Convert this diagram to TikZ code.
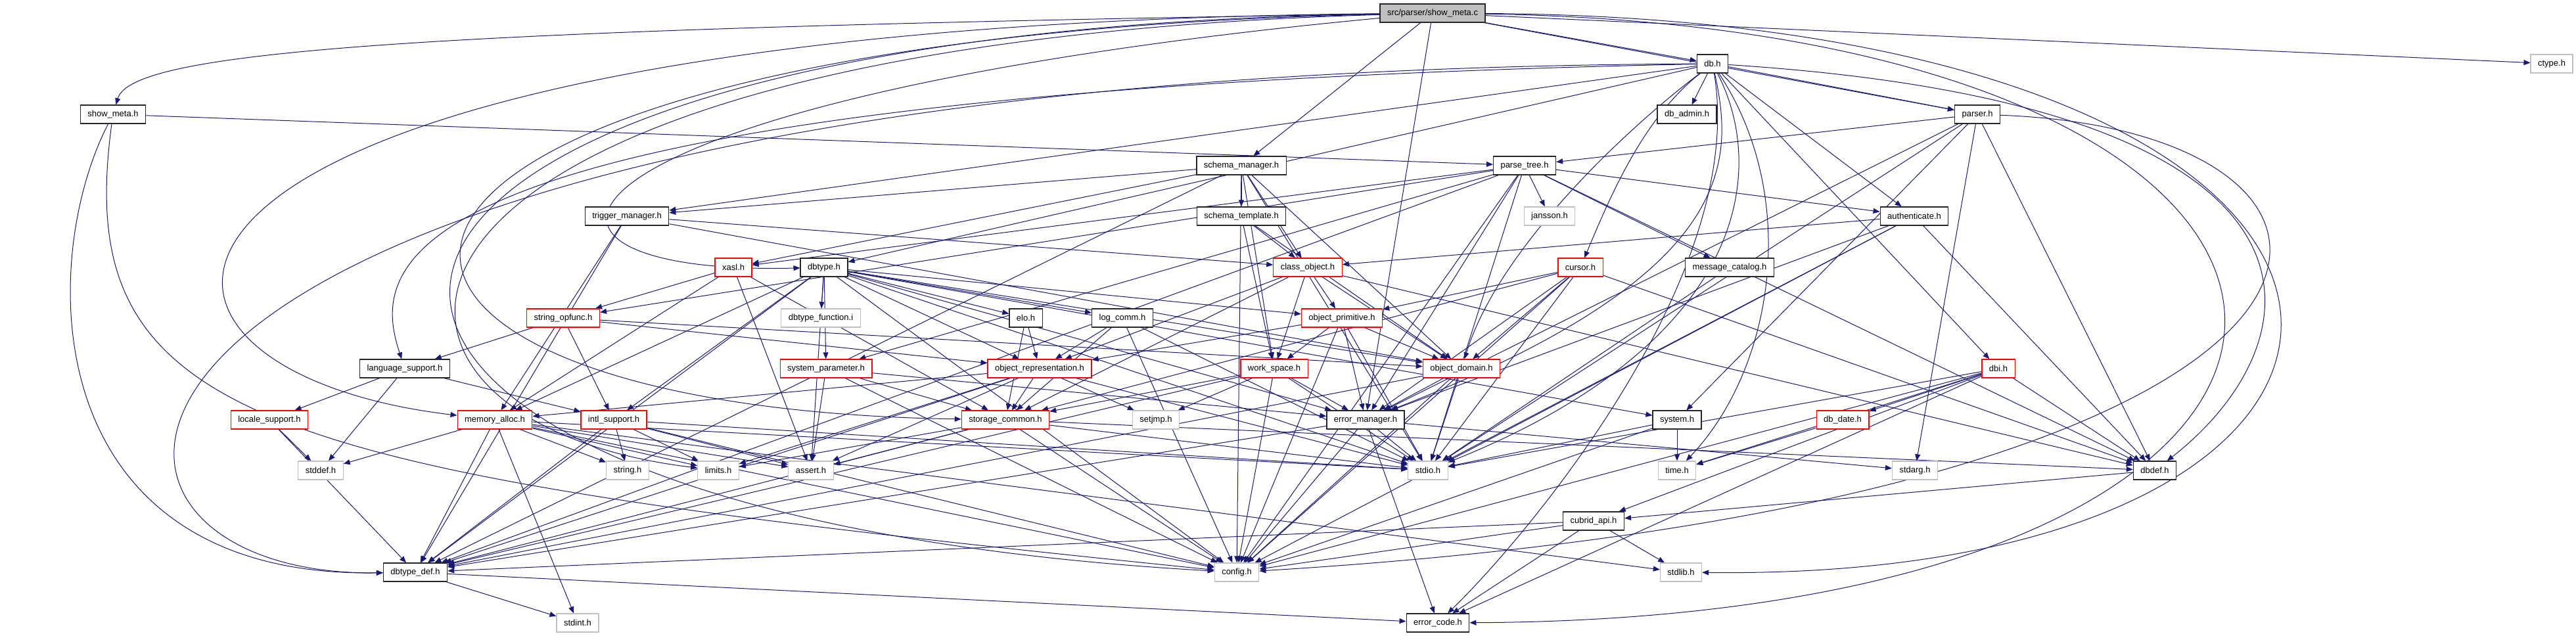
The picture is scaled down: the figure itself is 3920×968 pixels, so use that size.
\documentclass[tikz,border=0pt]{standalone}
\usepackage{fontspec}
\setmainfont{Liberation Sans}
\usetikzlibrary{arrows.meta, backgrounds}

\definecolor{edgeblue}{HTML}{191970}
\definecolor{sysgray}{HTML}{BFBFBF}

\begin{document}
\begin{tikzpicture}[
  x=1pt, y=-1pt,
  font=\fontsize{13}{15}\selectfont,
  hdr/.style={
    rectangle, draw=black!85, line width=1.2pt, fill=white,
    minimum height=28pt, inner xsep=11pt, inner ysep=0pt,
  },
  part/.style={hdr, draw=red},
  syshdr/.style={hdr, draw=sysgray},
  root/.style={hdr, fill=sysgray},
  inc/.style={draw=edgeblue, line width=1pt, -{Triangle[length=10pt,width=8pt]}},
]
\useasboundingbox (0,0) rectangle (3920,968);

% rows of the include graph
\node[root]   (showc)     at (2180,20)  {src/parser/show\_meta.c};
\node[hdr]    (db)        at (2606,97)  {db.h};
\node[syshdr] (ctype)     at (3883,97)  {ctype.h};
\node[hdr]    (showh)     at (172,174)  {show\_meta.h};
\node[hdr]    (dbadmin)   at (2567,174) {db\_admin.h};
\node[hdr]    (parser)    at (3009,174) {parser.h};
\node[hdr]    (schemamgr) at (1889,252) {schema\_manager.h};
\node[hdr]    (parsetree) at (2320,252) {parse\_tree.h};
\node[hdr]    (trigmgr)   at (954,329)  {trigger\_manager.h};
\node[hdr]    (schematpl) at (1889,329) {schema\_template.h};
\node[syshdr] (jansson)   at (2358,329) {jansson.h};
\node[hdr]    (auth)      at (2913,329) {authenticate.h};
\node[part]   (xasl)      at (1116,407) {xasl.h};
\node[hdr]    (dbtype)    at (1254,407) {dbtype.h};
\node[part]   (classobj)  at (1990,407) {class\_object.h};
\node[part]   (cursor)    at (2405,407) {cursor.h};
\node[hdr]    (msgcat)    at (2632,407) {message\_catalog.h};
\node[part]   (strop)     at (857,484)  {string\_opfunc.h};
\node[syshdr] (dbtypefn)  at (1249,484) {dbtype\_function.i};
\node[hdr]    (elo)       at (1561,484) {elo.h};
\node[hdr]    (logcomm)   at (1708,484) {log\_comm.h};
\node[part]   (objprim)   at (2042,484) {object\_primitive.h};
\node[hdr]    (langsup)   at (616,561)  {language\_support.h};
\node[part]   (syspar)    at (1257,561) {system\_parameter.h};
\node[part]   (objrep)    at (1582,561) {object\_representation.h};
\node[part]   (workspace) at (1939,561) {work\_space.h};
\node[part]   (objdom)    at (2224,561) {object\_domain.h};
\node[part]   (dbi)       at (3041,561) {dbi.h};
\node[part]   (locsup)    at (410,639)  {locale\_support.h};
\node[part]   (memalloc)  at (753,639)  {memory\_alloc.h};
\node[part]   (intlsup)   at (934,639)  {intl\_support.h};
\node[part]   (storcom)   at (1530,639) {storage\_common.h};
\node[syshdr] (setjmp)    at (1759,639) {setjmp.h};
\node[hdr]    (errmgr)    at (2078,639) {error\_manager.h};
\node[hdr]    (system)    at (2552,639) {system.h};
\node[part]   (dbdate)    at (2804,639) {db\_date.h};
\node[syshdr] (stddef)    at (488,716)  {stddef.h};
\node[syshdr] (stringh)   at (955,716)  {string.h};
\node[syshdr] (limits)    at (1093,716) {limits.h};
\node[syshdr] (assert)    at (1234,716) {assert.h};
\node[syshdr] (stdio)     at (2173,716) {stdio.h};
\node[syshdr] (time)      at (2552,716) {time.h};
\node[syshdr] (stdarg)    at (2914,716) {stdarg.h};
\node[hdr]    (dbdef)     at (3279,716) {dbdef.h};
\node[hdr]    (cubridapi) at (2425,793) {cubrid\_api.h};
\node[hdr]    (dbtypedef) at (632,871)  {dbtype\_def.h};
\node[syshdr] (config)    at (1882,871) {config.h};
\node[syshdr] (stdlib)    at (2558,871) {stdlib.h};
\node[syshdr] (stdint)    at (879,948)  {stdint.h};
\node[hdr]    (errcode)   at (2188,948) {error\_code.h};

\begin{scope}[on background layer]
% direct includes
\foreach \s/\t in {
  showc/db, showc/parser, showc/schemamgr, showc/ctype, showc/errmgr,
  showh/parsetree,
  db/dbadmin, db/parser, db/auth, db/dbi, db/trigmgr, db/dbtype,
  parser/parsetree, parser/errmgr, parser/stdio, parser/dbdef, parser/stdarg,
  parser/system,
  schemamgr/trigmgr, schemamgr/schematpl, schemamgr/classobj,
  schemamgr/workspace, schemamgr/objdom, schemamgr/xasl, schemamgr/dbtypedef,
  schemamgr/stdio, schemamgr/config,
  parsetree/jansson, parsetree/msgcat, parsetree/xasl,
  parsetree/strop, parsetree/syspar, parsetree/auth, parsetree/errmgr,
  parsetree/dbdef, parsetree/stdio, parsetree/config, parsetree/dbtypedef,
  trigmgr/classobj, trigmgr/objdom, trigmgr/dbtypedef, trigmgr/memalloc,
  schematpl/classobj, schematpl/workspace, schematpl/objdom,
  auth/classobj, auth/dbdef, auth/errmgr, auth/stdio, auth/config,
  xasl/strop, xasl/memalloc, xasl/storcom, xasl/assert,
  dbtype/dbtypefn, dbtype/elo, dbtype/logcomm, dbtype/objprim, dbtype/objdom,
  dbtype/syspar, dbtype/intlsup, dbtype/memalloc, dbtype/dbtypedef,
  dbtype/errmgr, dbtype/stdio, dbtype/system, dbtype/objrep, dbtype/config,
  dbtype/assert,
  classobj/objprim, classobj/objdom, classobj/workspace, classobj/objrep,
  classobj/storcom, classobj/dbdef,
  cursor/objprim, cursor/objdom, cursor/storcom, cursor/errmgr, cursor/stdio,
  cursor/config, cursor/dbdef,
  msgcat/stdio,
  strop/langsup, strop/intlsup, strop/objrep, strop/objdom,
  elo/objrep, elo/storcom,
  logcomm/objrep, logcomm/storcom, logcomm/stdio, logcomm/config,
  objprim/objrep, objprim/workspace, objprim/objdom, objprim/errmgr,
  objprim/stdio, objprim/config,
  langsup/locsup, langsup/stddef, langsup/intlsup,
  syspar/storcom, syspar/config, syspar/errmgr, syspar/assert,
  objrep/storcom, objrep/setjmp, objrep/memalloc, objrep/dbtypedef,
  objrep/stdio, objrep/assert, objrep/limits,
  workspace/storcom, workspace/errmgr, workspace/stdio, workspace/config,
  workspace/setjmp, workspace/dbtypedef,
  objdom/errmgr, objdom/stdio, objdom/config, objdom/dbtypedef,
  dbi/dbdate, dbi/dbdef, dbi/stdio, dbi/time, dbi/config, dbi/errcode,
  dbi/cubridapi,
  locsup/stddef, locsup/dbtypedef,
  memalloc/stddef, memalloc/stringh, memalloc/limits, memalloc/assert,
  memalloc/stdio, memalloc/config, memalloc/dbtypedef, memalloc/stdint,
  memalloc/stdlib,
  intlsup/stringh, intlsup/limits, intlsup/assert, intlsup/dbtypedef,
  intlsup/config, intlsup/stdio,
  storcom/dbtypedef, storcom/config, storcom/assert, storcom/stdio,
  storcom/limits, storcom/dbdef,
  errmgr/stdio, errmgr/stdarg, errmgr/errcode, errmgr/config,
  errmgr/dbtypedef,
  system/time, system/config, system/stdio,
  dbdate/time,
  cubridapi/errcode, cubridapi/stdlib, cubridapi/config, cubridapi/dbtypedef,
  dbdef/cubridapi,
  dbtypedef/stdint, dbtypedef/errcode}
  \draw[inc] (\s) -- (\t);

% db.h fans out downwards
\draw[inc] (db) .. controls (2500,180) and (2450,300) .. (cursor);
\draw[inc] (db) .. controls (2470,200) and (2280,380) .. (objdom);
\draw[inc] (db) .. controls (2640,250) and (2640,420) .. (errmgr);
\draw[inc] (db) .. controls (2690,260) and (2660,520) .. (stdio);
\draw[inc] (db) .. controls (2740,300) and (2700,560) .. (time);
\draw[inc] (db) .. controls (2660,420) and (2320,820) .. (errcode);

% long routes round the left side
\draw[inc] (showc) .. controls (600,45) and (200,80) .. (showh);
\draw[inc] (showc) .. controls (800,150) and (700,420) .. (dbtype);
\draw[inc] (db) .. controls (0,110) and (0,880) .. (dbtypedef);
\draw[inc] (showh) .. controls (56,400) and (56,880) .. (dbtypedef);
\draw[inc] (showh) .. controls (107,650) and (400,720) .. (config);
\draw[inc] (showc) .. controls (88,40) and (88,560) .. (memalloc);
\draw[inc] (showc) .. controls (259,50) and (259,780) .. (config);
\draw[inc] (showc) .. controls (360,60) and (360,620) .. (storcom);
\draw[inc] (showc) .. controls (462,70) and (462,640) .. (limits);
\draw[inc] (db) .. controls (563,140) and (563,400) .. (langsup);

% long routes round the right side
\draw[inc] (showc) .. controls (3813,30) and (3813,885) .. (stdlib);
\draw[inc] (showc) .. controls (3763,45) and (3763,940) .. (errcode);
\draw[inc] (parser) .. controls (3711,200) and (3711,760) .. (config);
\draw[inc] (db) .. controls (3600,160) and (3530,520) .. (dbdef);
\end{scope}

\end{tikzpicture}
\end{document}
